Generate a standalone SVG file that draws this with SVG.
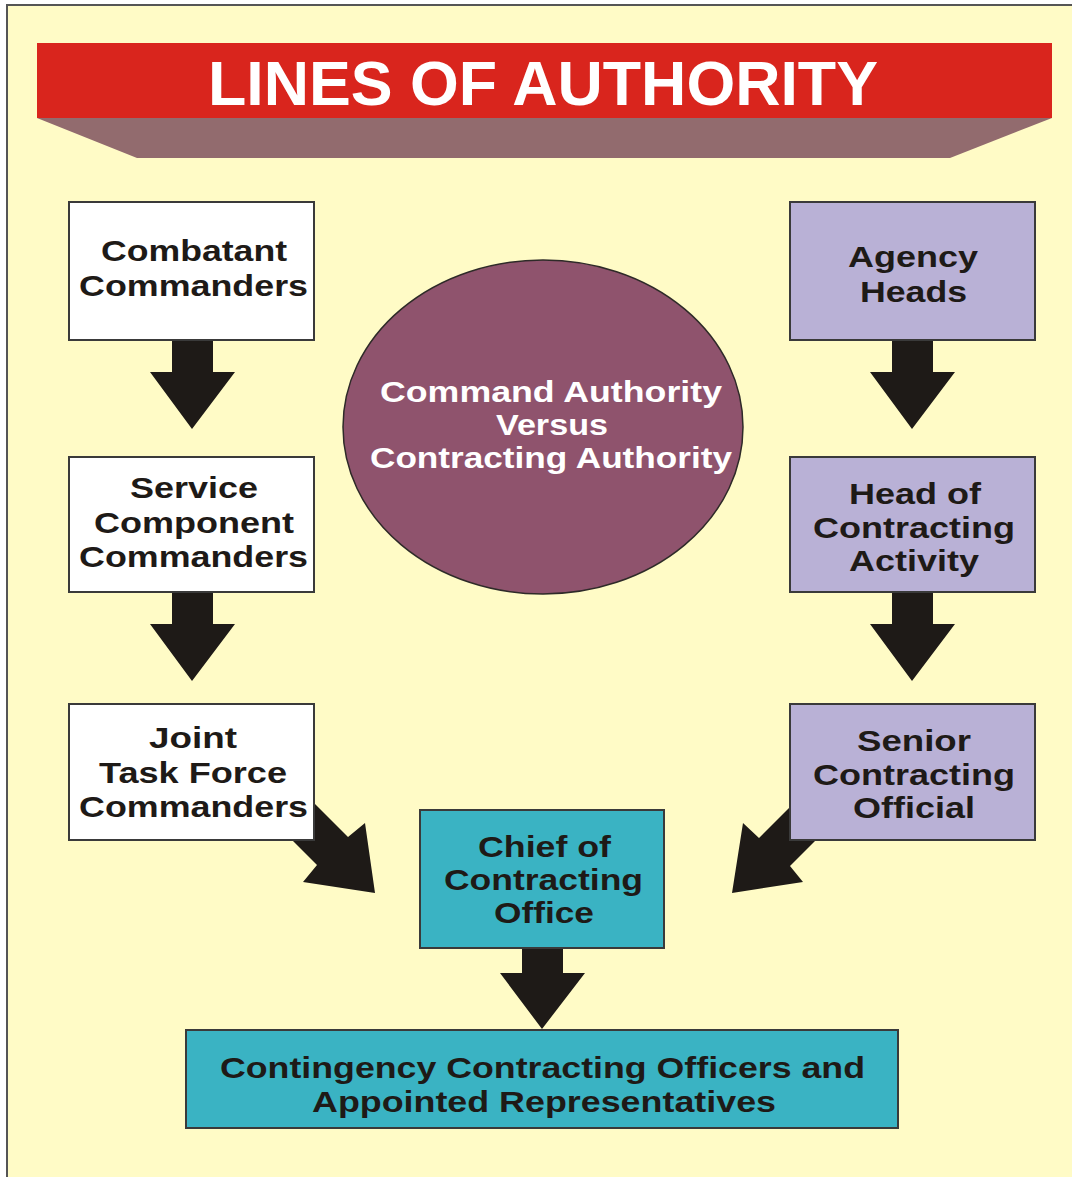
<svg xmlns="http://www.w3.org/2000/svg" width="1072" height="1177" viewBox="0 0 1072 1177">
<style>
.t{font-family:"Liberation Sans",Arial,sans-serif;font-weight:bold;text-anchor:middle;}
.bt{font-size:30px;fill:#1e1a17;}
.et{font-size:29px;fill:#ffffff;}
.box{stroke:#3a3a3a;stroke-width:2;}
.w{fill:#ffffff;}
.l{fill:#b9b1d6;}
.c{fill:#3ab3c3;}
.arr{fill:#1e1a17;}
</style>
<rect x="0" y="0" width="1072" height="1177" fill="#ffffff"/>
<rect x="7" y="5" width="1080" height="1190" fill="#fffbc6" stroke="#555555" stroke-width="2"/>
<g id="title">
<polygon points="37,118 1052,118 950,158 137,158" fill="#926b6e"/>
<rect x="37" y="43" width="1015" height="75" fill="#d9251d"/>
<text class="t" x="543" y="105" font-size="63" fill="#ffffff" textLength="670" lengthAdjust="spacingAndGlyphs">LINES OF AUTHORITY</text>
</g>
<g id="connectors">
<polygon class="arr" points="172,338 213,338 213,372 235,372 192,429 150,372 172,372"/>
<polygon class="arr" points="172,590 213,590 213,624 235,624 192,681 150,624 172,624"/>
<polygon class="arr" points="892,338 933,338 933,372 955,372 912,429 870,372 892,372"/>
<polygon class="arr" points="892,590 933,590 933,624 955,624 912,681 870,624 892,624"/>
<polygon class="arr" points="522,946 563,946 563,973 585,973 542,1029 500,973 522,973"/>
<polygon class="arr" points="270,759 348,837 365,823 375,893 303,882 317,865 240,788"/>
<polygon class="arr" points="830,767 759,838 743,823 732,893 803,882 790,866 860,796"/>
</g>
<g id="ellipse">
<ellipse cx="543" cy="427" rx="200" ry="167" fill="#8f536d" stroke="#2e2a28" stroke-width="1.5"/>
<text class="t et" x="551" y="402" textLength="342" lengthAdjust="spacingAndGlyphs">Command Authority</text>
<text class="t et" x="552" y="435" textLength="112" lengthAdjust="spacingAndGlyphs">Versus</text>
<text class="t et" x="551" y="468" textLength="362" lengthAdjust="spacingAndGlyphs">Contracting Authority</text>
</g>
<g id="combatant">
<rect class="box w" x="69" y="202" width="245" height="138"/>
<text class="t bt" x="194" y="261" textLength="186" lengthAdjust="spacingAndGlyphs">Combatant</text>
<text class="t bt" x="193.5" y="296" textLength="229" lengthAdjust="spacingAndGlyphs">Commanders</text>
</g>
<g id="service">
<rect class="box w" x="69" y="457" width="245" height="135"/>
<text class="t bt" x="194" y="498" textLength="128" lengthAdjust="spacingAndGlyphs">Service</text>
<text class="t bt" x="194" y="533" textLength="200" lengthAdjust="spacingAndGlyphs">Component</text>
<text class="t bt" x="193.5" y="567" textLength="229" lengthAdjust="spacingAndGlyphs">Commanders</text>
</g>
<g id="joint">
<rect class="box w" x="69" y="704" width="245" height="136"/>
<text class="t bt" x="193" y="748" textLength="88" lengthAdjust="spacingAndGlyphs">Joint</text>
<text class="t bt" x="193" y="783" textLength="188" lengthAdjust="spacingAndGlyphs">Task Force</text>
<text class="t bt" x="193.5" y="817" textLength="229" lengthAdjust="spacingAndGlyphs">Commanders</text>
</g>
<g id="agency">
<rect class="box l" x="790" y="202" width="245" height="138"/>
<text class="t bt" x="913" y="267" textLength="130" lengthAdjust="spacingAndGlyphs">Agency</text>
<text class="t bt" x="913.5" y="302" textLength="107" lengthAdjust="spacingAndGlyphs">Heads</text>
</g>
<g id="hca">
<rect class="box l" x="790" y="457" width="245" height="135"/>
<text class="t bt" x="915" y="504" textLength="132" lengthAdjust="spacingAndGlyphs">Head of</text>
<text class="t bt" x="914" y="538" textLength="202" lengthAdjust="spacingAndGlyphs">Contracting</text>
<text class="t bt" x="914" y="571" textLength="130" lengthAdjust="spacingAndGlyphs">Activity</text>
</g>
<g id="sco">
<rect class="box l" x="790" y="704" width="245" height="136"/>
<text class="t bt" x="914" y="751" textLength="114" lengthAdjust="spacingAndGlyphs">Senior</text>
<text class="t bt" x="914" y="785" textLength="202" lengthAdjust="spacingAndGlyphs">Contracting</text>
<text class="t bt" x="914" y="818" textLength="122" lengthAdjust="spacingAndGlyphs">Official</text>
</g>
<g id="chief">
<rect class="box c" x="420" y="810" width="244" height="138"/>
<text class="t bt" x="544.5" y="857" textLength="133" lengthAdjust="spacingAndGlyphs">Chief of</text>
<text class="t bt" x="543.5" y="890" textLength="199" lengthAdjust="spacingAndGlyphs">Contracting</text>
<text class="t bt" x="544" y="923" textLength="100" lengthAdjust="spacingAndGlyphs">Office</text>
</g>
<g id="cco">
<rect class="box c" x="186" y="1030" width="712" height="98"/>
<line x1="187" y1="1128" x2="898" y2="1128" stroke="#3a3a3a" stroke-width="2"/>
<text class="t bt" x="542.5" y="1078" textLength="645" lengthAdjust="spacingAndGlyphs">Contingency Contracting Officers and</text>
<text class="t bt" x="544" y="1112" textLength="464" lengthAdjust="spacingAndGlyphs">Appointed Representatives</text>
</g>
</svg>
